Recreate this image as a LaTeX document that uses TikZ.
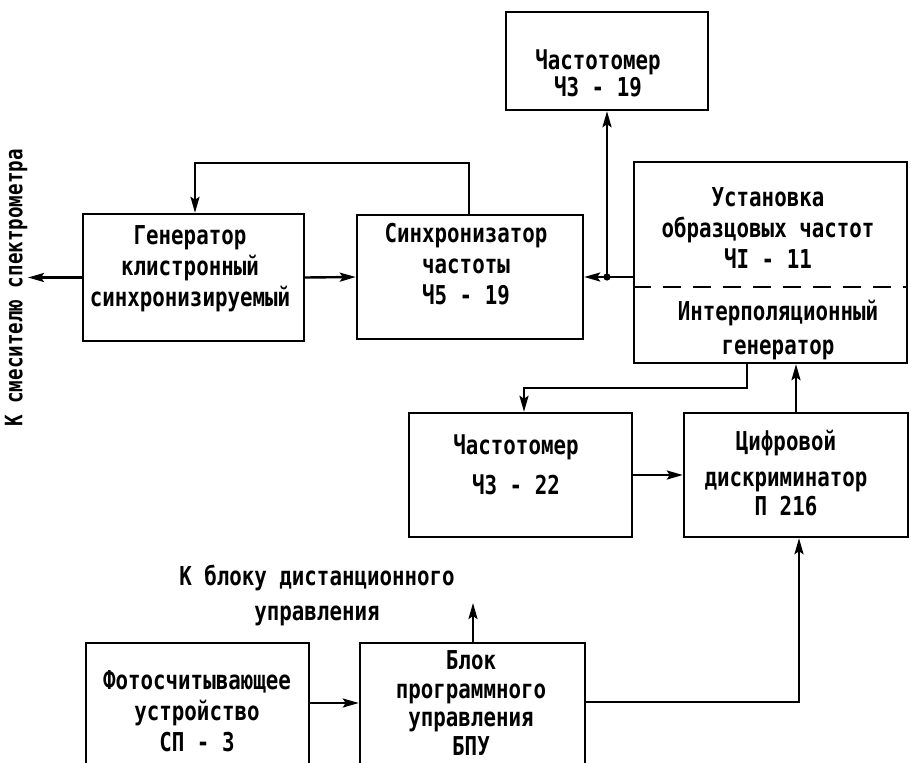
\documentclass[tikz,border=0pt]{standalone}
\usepackage{fontspec}
\newfontfamily\tw{DejaVu Sans Mono}[FakeStretch=0.8]
\usetikzlibrary{arrows.meta}
\begin{document}
\begin{tikzpicture}[x=1pt,y=-1pt,
  box/.style={draw, line width=2.4pt, inner sep=0pt, rectangle},
  txt/.style={font=\tw\bfseries\fontsize{26}{31}\selectfont, align=center, inner sep=0pt},
  conn/.style={line width=2.4pt},
  arr/.style={conn, -{Stealth[length=16pt,width=9pt,inset=3pt]}},
]
\path[use as bounding box] (0,0) rectangle (911,763);
\clip (0,0) rectangle (911,763);

% boxes
\node[box, minimum width=221pt, minimum height=127pt] (gen)  at (193.5,277.5) {};
\node[box, minimum width=226pt, minimum height=124pt] (sync) at (470,277) {};
\node[box, minimum width=202pt, minimum height=98pt]  (ch19) at (607,61) {};
\node[box, minimum width=273pt, minimum height=201pt] (ust)  at (770.5,262.5) {};
\node[box, minimum width=223pt, minimum height=124pt] (ch22) at (520.5,475) {};
\node[box, minimum width=224pt, minimum height=124pt] (dig)  at (796,475) {};
\node[box, minimum width=223pt, minimum height=140pt] (foto) at (197.5,713) {};
\node[box, minimum width=225pt, minimum height=140pt] (blok) at (472.5,713) {};

% dashed divider
\coordinate (dv) at (0,287);
\draw[line width=2.4pt, dash pattern=on 18pt off 12pt] (ust.west |- dv) -- (ust.east |- dv);

% texts
\node[txt] (gent) at (190,269) {Генератор\\клистронный\\синхронизируемый};
\node[txt] (synct) at (466,264) {Синхронизатор\\частоты\\Ч5 - 19};
\node[txt] (ch19t) at (598,73.5) {Частотомер\\[-4pt]Ч3 - 19};
\node[txt] (ustt) at (768,228) {Установка\\образцовых частот\\ЧI - 11};
\node[txt] (ustb) at (778,330) {Интерполяционный\\[3pt]генератор};
\node[txt] (ch22t) at (516,465) {Частотомер\\[9pt]Ч3 - 22};
\node[txt] (digt) at (786,473) {Цифровой\\[5pt]дискриминатор\\[-2pt]П 216};
\node[txt] (fotot) at (197,711) {Фотосчитывающее\\устройство\\СП - 3};
\node[txt, font=\tw\bfseries\fontsize{26}{28.5}\selectfont] (blokt) at (471,703) {Блок\\программного\\управления\\БПУ};
\node[txt] (kbl) at (317,595.5) {К блоку дистанционного\\[4pt]управления};
\node[txt, font=\tw\bfseries\fontsize{24}{28}\selectfont, rotate=90] (smest) at (16,288) {К смесителю спектрометра};

% connectors
\coordinate (smes) at (28,277.5);
\draw[arr] (gen.west) -- (smes);
\draw[arr] (gen.east) -- (sync.west);
\coordinate (jn) at (607,277);
\draw[arr] (ust.west |- jn) -- (sync.east);
\fill (jn) circle (3.6pt);
\draw[arr] (jn) -- (ch19.south);
\coordinate (fbA) at (469,163);
\coordinate (fbB) at (195,163);
\draw[arr] (sync.north -| fbA) -- (fbA) -- (fbB) -- (gen.north -| fbB);
\coordinate (ia) at (747,388);
\coordinate (ib) at (524,388);
\draw[arr] (ust.south -| ia) -- (ia) -- (ib) -- (ch22.north -| ib);
\draw[arr] (dig.north) -- (ust.south -| dig.north);
\draw[arr] (ch22.east) -- (dig.west);
\coordinate (fb) at (0,703);
\draw[arr] (foto.east |- fb) -- (blok.west |- fb);
\coordinate (bd) at (799,702);
\draw[arr] (blok.east |- bd) -- (bd) -- (dig.south -| bd);
\coordinate (du) at (473,603);
\draw[arr] (blok.north -| du) -- (du);
\end{tikzpicture}
\end{document}
